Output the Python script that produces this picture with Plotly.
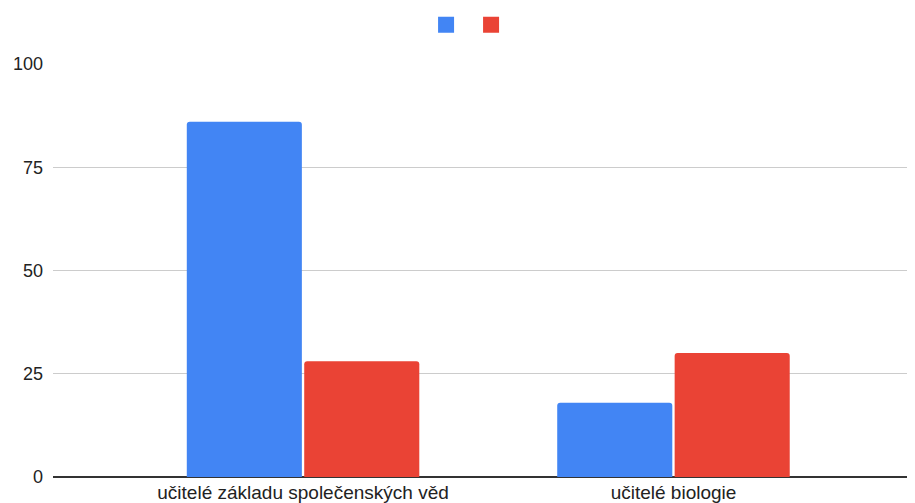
import plotly.graph_objects as go

categories = ["učitelé základu společenských věd", "učitelé biologie"]
series_blue = [86, 18]
series_red = [28, 30]
series_names = ["", ""]
colors = ["#4285F4", "#EA4335"]
y_ticks = [0, 25, 50, 75, 100]

fig = go.Figure()
for name, vals, col in zip(series_names, [series_blue, series_red], colors):
    fig.add_trace(go.Bar(x=categories, y=vals, name=name, marker=dict(color=col, cornerradius=3, line=dict(width=0)),
                         showlegend=False))
    fig.add_trace(go.Scatter(x=[None], y=[None], mode="markers", name=name,
                             marker=dict(symbol="square", size=16, color=col), showlegend=True))

# page body has an 8px margin; compensate so plot lands at the same pixels
fig.update_layout(
    width=907, height=495,
    margin=dict(l=45, r=0, t=56, b=20),
    paper_bgcolor="white", plot_bgcolor="white",
    barmode="group", bargap=0.366, bargroupgap=0.02,
    font=dict(family="Liberation Sans, Arial", size=18, color="#222222"),
    legend=dict(orientation="h", x=0.485, xanchor="center", y=0.999, yanchor="top",
                yref="container", font=dict(size=15), itemwidth=30, tracegroupgap=0),
    xaxis=dict(range=[-0.675, 1.652], showgrid=False, showline=False, zeroline=False,
               tickfont=dict(size=19, color="#222222"), ticklabelstandoff=2),
    yaxis=dict(range=[0, 100], tickvals=y_ticks, showgrid=True, gridcolor="#cccccc", gridwidth=1,
               zeroline=True, zerolinecolor="#333333", zerolinewidth=2, showline=False,
               tickfont=dict(size=18, color="#222222"), ticks="", ticklabelstandoff=9),
)
fig.write_html("out.html")
